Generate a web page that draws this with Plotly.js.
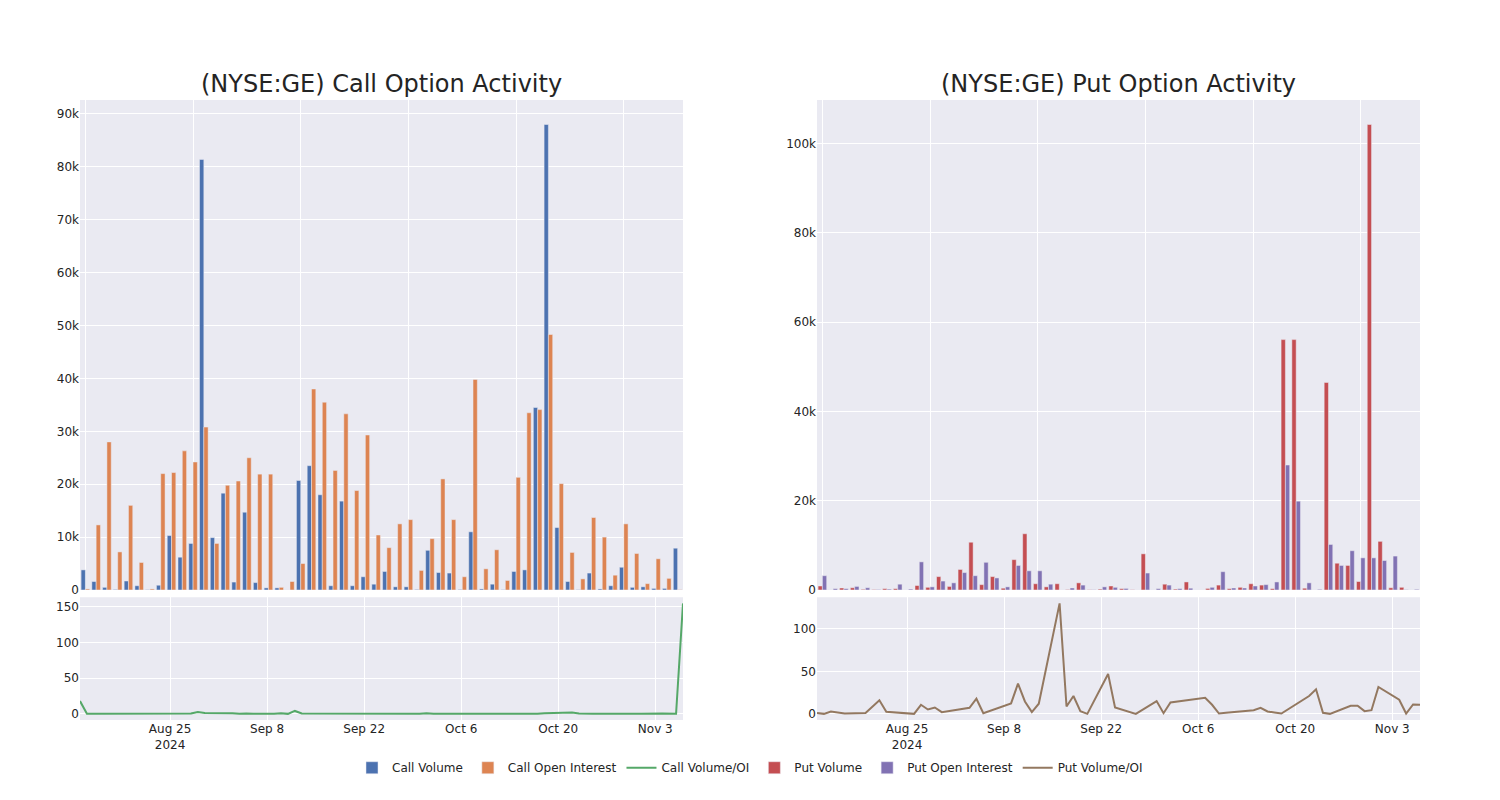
<!DOCTYPE html>
<html>
<head>
<meta charset="utf-8">
<script src="https://cdn.plot.ly/plotly-3.0.1.min.js"></script>
<style>
  html, body { margin: 0; padding: 0; background: #fff; }
  #chart { width: 1500px; height: 800px; }
</style>
</head>
<body>
<div id="chart"></div>
<script>
// trading days shown (bars use them as categories, lines as dates)
var days = [
  '2024-08-12', '2024-08-13', '2024-08-14', '2024-08-15', '2024-08-16', '2024-08-19', '2024-08-21',
  '2024-08-22', '2024-08-26', '2024-08-27', '2024-08-28', '2024-08-29', '2024-08-30',
  '2024-09-03', '2024-09-04', '2024-09-05', '2024-09-06', '2024-09-09', '2024-09-10', '2024-09-11',
  '2024-09-12', '2024-09-13', '2024-09-16', '2024-09-17', '2024-09-18', '2024-09-19', '2024-09-20',
  '2024-09-23', '2024-09-24', '2024-09-25', '2024-09-27', '2024-09-30',
  '2024-10-01', '2024-10-02', '2024-10-07', '2024-10-08', '2024-10-09', '2024-10-10', '2024-10-14',
  '2024-10-15', '2024-10-16', '2024-10-17', '2024-10-18', '2024-10-22', '2024-10-23', '2024-10-24',
  '2024-10-25', '2024-10-28', '2024-10-29', '2024-10-30', '2024-10-31',
  '2024-11-01', '2024-11-04', '2024-11-05', '2024-11-06', '2024-11-07'
];

var callVolume = [3800, 1600, 500, 100, 1700, 800, 50, 900, 10300, 6200,
  8800, 81400, 9900, 18300, 1500, 14700, 1400, 400, 400, 0,
  20700, 23500, 18000, 800, 16800, 800, 2500, 1100, 3500, 600,
  600, 100, 7500, 3300, 3200, 100, 11000, 200, 1100, 50,
  3500, 3800, 34500, 88000, 11800, 1600, 50, 3200, 200, 800,
  4300, 500, 600, 300, 300, 7900];

var callOI = [200, 12300, 28000, 7200, 16000, 5200, 200, 22000, 22200, 26300,
  24200, 30800, 8800, 19800, 20600, 25000, 21900, 21900, 500, 1600,
  5000, 38000, 35500, 22600, 33300, 18800, 29300, 10400, 8000, 12500,
  13300, 3700, 9700, 21000, 13300, 2500, 39800, 4000, 7600, 1800,
  21300, 33500, 34100, 48300, 20100, 7100, 2100, 13700, 10000, 2800,
  12500, 6900, 1200, 5900, 2200, 50];

var callRatio = [18, 0.1, 0, 0, 0.1, 0.2, 0.3, 0, 0.5, 0.2,
  0.4, 2.6, 1.1, 0.9, 0.1, 0.6, 0.1, 0, 0.8, 0,
  4.1, 0.6, 0.5, 0, 0.5, 0, 0.1, 0.1, 0.4, 0,
  0, 0, 0.8, 0.2, 0.2, 0, 0.3, 0, 0.1, 0,
  0.2, 0.1, 1.0, 1.8, 0.6, 0.2, 0, 0.2, 0, 0.3,
  0.3, 0.1, 0.5, 0.1, 0.1, 155];

var putVolume = [900, 0, 450, 500, 150, 100, 300, 300, 0, 1000,
  600, 3000, 800, 4600, 10700, 1200, 3000, 400, 6800, 12600,
  1400, 700, 1400, 100, 1600, 50, 200, 900, 300, 50,
  8100, 0, 1300, 200, 1800, 0, 350, 1100, 300, 600,
  1400, 1100, 300, 56100, 56100, 400, 0, 46500, 6000, 5500,
  1900, 104300, 10900, 500, 600, 0];

var putOI = [3200, 300, 300, 800, 500, 100, 200, 1300, 200, 6300,
  700, 2000, 1600, 3900, 3200, 6200, 2700, 700, 5500, 4300,
  4300, 1300, 0, 450, 1100, 50, 700, 600, 350, 0,
  3800, 300, 1100, 300, 400, 0, 600, 4100, 450, 450,
  900, 1200, 1800, 28000, 19900, 1600, 150, 10200, 5500, 8800,
  7200, 7200, 6600, 7600, 50, 150];

var putRatio = [1, 0, 2.8, 1.6, 0.4, 1, 16, 2.4, 0, 10.7,
  5.1, 7.5, 2, 7.1, 17.8, 0.8, 3.7, 12.3, 35.6, 14.6,
  2, 11.9, 130, 8.7, 21, 3.2, 0, 47, 7.5, 5,
  0, 15, 0.8, 13.4, 19, 10.7, 0.4, 1.2, 4.3, 7.1,
  2.8, 1.6, 0.4, 21, 28.9, 1.2, 0, 9.5, 9.5, 3.2,
  4.3, 31.6, 16.6, 0.4, 11, 10.7];

var barEdge = {color: '#EAEAF2', width: 0.5};

var data = [
  {x: days, y: callVolume, name: 'Call Volume', type: 'bar',
   marker: {color: '#4c72b0', line: barEdge}, xaxis: 'x', yaxis: 'y'},
  {x: days, y: callOI, name: 'Call Open Interest', type: 'bar',
   marker: {color: '#dd8452', line: barEdge}, xaxis: 'x', yaxis: 'y'},
  {x: days, y: callRatio, name: 'Call Volume/OI', type: 'scatter', mode: 'lines',
   line: {color: '#55a868', width: 2}, xaxis: 'x2', yaxis: 'y2'},
  {x: days, y: putVolume, name: 'Put Volume', type: 'bar',
   marker: {color: '#c44e52', line: barEdge}, xaxis: 'x3', yaxis: 'y3'},
  {x: days, y: putOI, name: 'Put Open Interest', type: 'bar',
   marker: {color: '#8172b3', line: barEdge}, xaxis: 'x3', yaxis: 'y3'},
  {x: days, y: putRatio, name: 'Put Volume/OI', type: 'scatter', mode: 'lines',
   line: {color: '#937860', width: 2}, xaxis: 'x4', yaxis: 'y4'}
];

var gridCol = '#ffffff';
var txt = 'rgb(36,36,36)';

function catAxis(dom, anchor) {
  return {domain: dom, anchor: anchor, type: 'category', showticklabels: false,
    tickmode: 'linear', tick0: 0, dtick: 10, gridcolor: gridCol, gridwidth: 1,
    zeroline: false, showline: false, ticks: ''};
}
function dateAxis(dom, anchor) {
  return {domain: dom, anchor: anchor, type: 'date', gridcolor: gridCol, gridwidth: 1,
    zeroline: false, showline: false, ticks: '', tickfont: {size: 12, color: txt}};
}
function valAxis(dom, anchor) {
  return {domain: dom, anchor: anchor, gridcolor: gridCol, gridwidth: 1,
    zeroline: false, showline: false, ticks: '', tickfont: {size: 12, color: txt}};
}

var topDom = [0.2097, 1];
var botDom = [0, 0.198];
var leftDom = [0, 0.45];
var rightDom = [0.55, 1];

var layout = {
  width: 1500,
  height: 800,
  margin: {l: 80, r: 80, t: 100, b: 80},
  paper_bgcolor: '#ffffff',
  plot_bgcolor: '#EAEAF2',
  font: {family: 'DejaVu Sans, sans-serif', size: 12, color: txt},
  barmode: 'group',
  bargap: 0.2,
  showlegend: true,
  legend: {orientation: 'h', x: 0.5, xanchor: 'center', y: -0.077, yanchor: 'middle',
    font: {size: 12, color: txt}},
  xaxis: catAxis(leftDom, 'y'),
  yaxis: valAxis(topDom, 'x'),
  xaxis2: dateAxis(leftDom, 'y2'),
  yaxis2: valAxis(botDom, 'x2'),
  xaxis3: catAxis(rightDom, 'y3'),
  yaxis3: valAxis(topDom, 'x3'),
  xaxis4: dateAxis(rightDom, 'y4'),
  yaxis4: valAxis(botDom, 'x4'),
  annotations: [
    {text: '(NYSE:GE) Call Option Activity', x: 0.225, y: 1.026, xref: 'paper', yref: 'paper',
     xanchor: 'center', yanchor: 'middle', showarrow: false, font: {size: 24, color: txt}},
    {text: '(NYSE:GE) Put Option Activity', x: 0.775, y: 1.026, xref: 'paper', yref: 'paper',
     xanchor: 'center', yanchor: 'middle', showarrow: false, font: {size: 24, color: txt}}
  ]
};

Plotly.newPlot('chart', data, layout, {displayModeBar: false, responsive: false});
</script>
</body>
</html>
